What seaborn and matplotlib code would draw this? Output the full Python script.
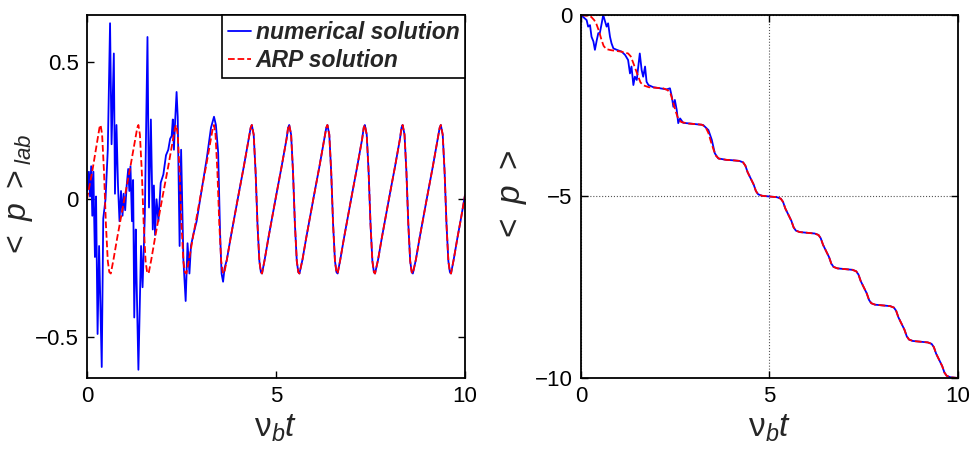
import seaborn as sns
import matplotlib
matplotlib.use("Agg")
import matplotlib.pyplot as plt
import numpy as np

# DATA
# Left panel: <p>_lab.  Beginning of the numerical solution (noisy part)
lab_num_head_t = [0.00, 0.02, 0.05, 0.08, 0.11, 0.14, 0.17, 0.19, 0.21, 0.24, 0.28, 0.32, 0.39,
                  0.43, 0.49, 0.55, 0.61, 0.65, 0.71, 0.74, 0.78, 0.82, 0.86, 0.90, 0.94, 0.97,
                  1.01, 1.05, 1.09, 1.12, 1.15, 1.19, 1.22, 1.25, 1.29, 1.31, 1.36, 1.43, 1.47,
                  1.53, 1.60, 1.64, 1.69, 1.74, 1.77, 1.80, 1.84, 1.89, 1.95, 2.02, 2.09, 2.15,
                  2.20, 2.24, 2.27, 2.30, 2.33, 2.37, 2.40, 2.45, 2.49, 2.55, 2.61, 2.66, 2.71,
                  2.75, 2.81, 2.90, 3.03, 3.17, 3.28, 3.36, 3.41, 3.47, 3.52, 3.56, 3.60, 3.64]
lab_num_head_v = [0.03, 0.04, 0.10, 0.01, 0.12, -0.06, 0.10, -0.07, -0.21, 0.01, -0.49, -0.17, -0.61,
                  -0.07, 0.00, 0.18, 0.64, 0.20, 0.53, 0.02, 0.27, 0.05, -0.08, 0.03, -0.06, 0.02,
                  -0.04, 0.05, 0.11, 0.03, 0.12, -0.08, 0.07, -0.43, -0.11, -0.28, -0.62, -0.17, -0.32,
                  -0.06, 0.59, -0.03, 0.29, -0.11, 0.05, -0.13, 0.00, -0.08, 0.06, 0.09, 0.16, 0.18,
                  0.22, 0.23, 0.29, 0.18, 0.28, 0.39, 0.30, -0.17, 0.18, -0.22, -0.37, -0.16, -0.27,
                  -0.17, -0.13, -0.08, 0.03, 0.15, 0.26, 0.30, 0.27, 0.17, -0.12, -0.27, -0.30, -0.25]

# Beginning of the ARP solution
lab_arp_head_t = [0.00, 0.15, 0.28, 0.33, 0.36, 0.40, 0.45, 0.50, 0.55, 0.59, 0.63, 0.70, 0.80, 0.90,
                  1.00, 1.15, 1.28, 1.33, 1.36, 1.40, 1.45, 1.50, 1.55, 1.59, 1.63, 1.70, 1.80, 1.90,
                  2.00, 2.15, 2.28, 2.33, 2.36, 2.40, 2.45, 2.50, 2.55, 2.59, 2.63, 2.70, 2.80, 2.90,
                  3.00, 3.15, 3.28, 3.33, 3.36, 3.40, 3.45, 3.50, 3.55, 3.59, 3.63]
lab_arp_head_v = [0.00, 0.11, 0.22, 0.26, 0.27, 0.235, 0.10, -0.09, -0.225, -0.265, -0.27, -0.22, -0.14, -0.065,
                  0.01, 0.12, 0.22, 0.26, 0.27, 0.235, 0.10, -0.09, -0.225, -0.265, -0.27, -0.22, -0.14, -0.065,
                  0.01, 0.12, 0.22, 0.26, 0.27, 0.235, 0.10, -0.09, -0.225, -0.265, -0.27, -0.22, -0.14, -0.065,
                  0.01, 0.12, 0.22, 0.26, 0.27, 0.235, 0.10, -0.09, -0.225, -0.265, -0.27]

# After t ~ 3.7 both curves lie on top of each other
lab_tail_t = [3.70, 3.80, 3.90,
              4.00, 4.15, 4.28, 4.33, 4.36, 4.41, 4.46, 4.51, 4.56, 4.60, 4.63, 4.70, 4.80, 4.90,
              5.00, 5.15, 5.28, 5.32, 5.35, 5.40, 5.45, 5.50, 5.55, 5.59, 5.62, 5.70, 5.80, 5.90,
              6.00, 6.15, 6.28, 6.33, 6.36, 6.41, 6.46, 6.51, 6.56, 6.60, 6.63, 6.70, 6.80, 6.90,
              7.00, 7.15, 7.28, 7.32, 7.35, 7.40, 7.45, 7.50, 7.55, 7.59, 7.62, 7.70, 7.80, 7.90,
              8.00, 8.15, 8.28, 8.32, 8.35, 8.40, 8.45, 8.50, 8.55, 8.59, 8.62, 8.70, 8.80, 8.90,
              9.00, 9.15, 9.28, 9.33, 9.36, 9.41, 9.46, 9.51, 9.56, 9.60, 9.63, 9.70, 9.80, 9.90, 10.00]
lab_tail_v = [-0.22, -0.14, -0.065,
              0.01, 0.12, 0.22, 0.26, 0.27, 0.235, 0.10, -0.09, -0.225, -0.265, -0.27, -0.22, -0.14, -0.065,
              0.01, 0.12, 0.22, 0.26, 0.27, 0.235, 0.10, -0.09, -0.225, -0.265, -0.27, -0.22, -0.14, -0.065,
              0.01, 0.12, 0.22, 0.26, 0.27, 0.235, 0.10, -0.09, -0.225, -0.265, -0.27, -0.22, -0.14, -0.065,
              0.01, 0.12, 0.22, 0.26, 0.27, 0.235, 0.10, -0.09, -0.225, -0.265, -0.27, -0.22, -0.14, -0.065,
              0.01, 0.12, 0.22, 0.26, 0.27, 0.235, 0.10, -0.09, -0.225, -0.265, -0.27, -0.22, -0.14, -0.065,
              0.01, 0.12, 0.22, 0.26, 0.27, 0.235, 0.10, -0.09, -0.225, -0.265, -0.27, -0.22, -0.14, -0.065, 0.015]

# Right panel: <p>.  Numerical solution, noisy start
p_num_head_t = [0.00, 0.15, 0.19, 0.24, 0.28, 0.33, 0.37, 0.42, 0.46, 0.50, 0.55, 0.59, 0.64,
                0.68, 0.72, 0.77, 0.81, 0.86, 0.95, 1.08, 1.17, 1.25, 1.30, 1.34, 1.39, 1.43,
                1.48, 1.52, 1.56, 1.61, 1.65, 1.70, 1.74, 1.79, 1.92, 2.10, 2.27, 2.36, 2.41,
                2.45, 2.49, 2.54, 2.58, 2.63, 2.71, 2.98, 3.24, 3.38, 3.47, 3.55, 3.64]
p_num_head_v = [0.00, -0.14, -0.32, -0.28, -0.60, -0.73, -0.96, -0.69, -0.50, -0.50, -0.23, 0.00, -0.18,
                -0.32, -0.23, -0.60, -0.78, -0.92, -0.96, -1.01, -1.10, -1.24, -1.61, -1.42, -1.93, -1.70,
                -1.79, -1.42, -1.06, -1.52, -1.70, -1.42, -1.84, -1.93, -1.99, -2.02, -2.05, -2.02, -2.25,
                -2.53, -2.34, -2.62, -2.98, -2.85, -2.97, -3.00, -3.03, -3.17, -3.44, -3.81, -3.95]

# ARP solution, start
p_arp_head_t = [0.00, 0.15, 0.27, 0.35, 0.41, 0.48, 0.54, 0.60, 0.67, 0.80, 1.07, 1.25, 1.32,
                1.38, 1.45, 1.52, 1.58, 1.66, 1.80, 2.18, 2.30, 2.38, 2.45, 2.52, 2.58, 2.66,
                2.85, 3.20, 3.30, 3.38, 3.45, 3.52, 3.58, 3.66]
p_arp_head_v = [0.00, -0.02, -0.05, -0.14, -0.25, -0.45, -0.67, -0.85, -0.94, -0.97, -1.01, -1.06, -1.14,
                -1.30, -1.50, -1.70, -1.86, -1.94, -1.99, -2.02, -2.07, -2.18, -2.43, -2.68, -2.86, -2.95,
                -2.99, -3.02, -3.08, -3.25, -3.50, -3.72, -3.88, -3.96]

# Common staircase after t ~ 3.85
p_tail_t = [3.85,
            4.00, 4.20, 4.30, 4.36, 4.42, 4.50, 4.58, 4.64, 4.70, 4.80,
            5.00, 5.20, 5.30, 5.36, 5.42, 5.50, 5.58, 5.64, 5.70, 5.80,
            6.00, 6.20, 6.30, 6.36, 6.42, 6.50, 6.58, 6.64, 6.70, 6.80,
            7.00, 7.20, 7.30, 7.36, 7.42, 7.50, 7.58, 7.64, 7.70, 7.80,
            8.00, 8.20, 8.30, 8.36, 8.42, 8.50, 8.58, 8.64, 8.70, 8.80,
            9.00, 9.20, 9.30, 9.36, 9.42, 9.50, 9.58, 9.64, 9.70, 9.80, 10.00]
p_tail_v = [-3.99,
            -4.00, -4.02, -4.06, -4.15, -4.33, -4.50, -4.67, -4.85, -4.94, -4.98,
            -5.00, -5.02, -5.06, -5.15, -5.33, -5.50, -5.67, -5.85, -5.94, -5.98,
            -6.00, -6.02, -6.06, -6.15, -6.33, -6.50, -6.67, -6.85, -6.94, -6.98,
            -7.00, -7.02, -7.06, -7.15, -7.33, -7.50, -7.67, -7.85, -7.94, -7.98,
            -8.00, -8.02, -8.06, -8.15, -8.33, -8.50, -8.67, -8.85, -8.94, -8.98,
            -9.00, -9.02, -9.06, -9.15, -9.33, -9.50, -9.67, -9.85, -9.94, -9.98, -10.00]

# STYLE
sns.set_style("ticks")
plt.rcParams['font.family'] = ['Liberation Sans', 'DejaVu Sans']
plt.rcParams['mathtext.fontset'] = 'custom'
plt.rcParams['mathtext.rm'] = 'Liberation Sans'
plt.rcParams['mathtext.it'] = 'Liberation Sans:italic'

fig = plt.figure(figsize=(9.72, 4.54), dpi=100)
ax1 = fig.add_axes([0.0895, 0.1674, 0.3889, 0.7996])
ax2 = fig.add_axes([0.5977, 0.1674, 0.3879, 0.7996])

xlab = r'$\mathrm{\nu}_b t$'

# LEFT PANEL
sns.lineplot(x=lab_num_head_t + lab_tail_t, y=lab_num_head_v + lab_tail_v, ax=ax1,
             color='blue', linewidth=1.3, estimator=None, sort=False, label='numerical solution')
sns.lineplot(x=lab_arp_head_t + lab_tail_t, y=lab_arp_head_v + lab_tail_v, ax=ax1,
             color='red', linewidth=1.3, linestyle='--', dashes=(3, 2), estimator=None, sort=False,
             label='ARP solution')
ax1.set_xlim(0, 10)
ax1.set_ylim(-0.65, 0.67)
ax1.set_xticks([0, 5, 10])
ax1.set_yticks([-0.5, 0, 0.5])
ax1.set_yticklabels(['\u22120.5', '0', '0.5'])
ax1.set_xlabel(xlab, fontsize=24, labelpad=4)
ax1.set_ylabel(r'$<\ p\ >_{lab}$', fontsize=23, labelpad=0)
leg = ax1.legend(loc='upper right', borderaxespad=0, fancybox=False, framealpha=1,
                 edgecolor='black', handlelength=1.0, handletextpad=0.2, borderpad=0.25,
                 labelspacing=0.25, prop={'weight': 'bold', 'style': 'italic', 'size': 16.5})
leg.get_frame().set_linewidth(1.2)

# RIGHT PANEL
sns.lineplot(x=p_num_head_t + p_tail_t, y=p_num_head_v + p_tail_v, ax=ax2,
             color='blue', linewidth=1.3, estimator=None, sort=False)
sns.lineplot(x=p_arp_head_t + p_tail_t, y=p_arp_head_v + p_tail_v, ax=ax2,
             color='red', linewidth=1.3, linestyle='--', dashes=(3, 2), estimator=None, sort=False)
ax2.set_xlim(0, 10)
ax2.set_ylim(-10, 0)
ax2.set_xticks([0, 5, 10])
ax2.set_yticks([-10, -5, 0])
ax2.set_yticklabels(['\u221210', '\u22125', '0'])
ax2.grid(True, linestyle=':', color='#555555', linewidth=0.8)
ax2.set_xlabel(xlab, fontsize=24, labelpad=4)
ax2.set_ylabel(r'$<\ p\ >$', fontsize=24, labelpad=4)

for ax in (ax1, ax2):
    ax.tick_params(direction='in', top=True, right=True, length=5, width=1,
                   labelsize=16, pad=6, colors='black')
    for s in ax.spines.values():
        s.set_linewidth(1.3)
        s.set_color('black')
        s.set_visible(True)

fig.savefig('out.png', dpi=100)
